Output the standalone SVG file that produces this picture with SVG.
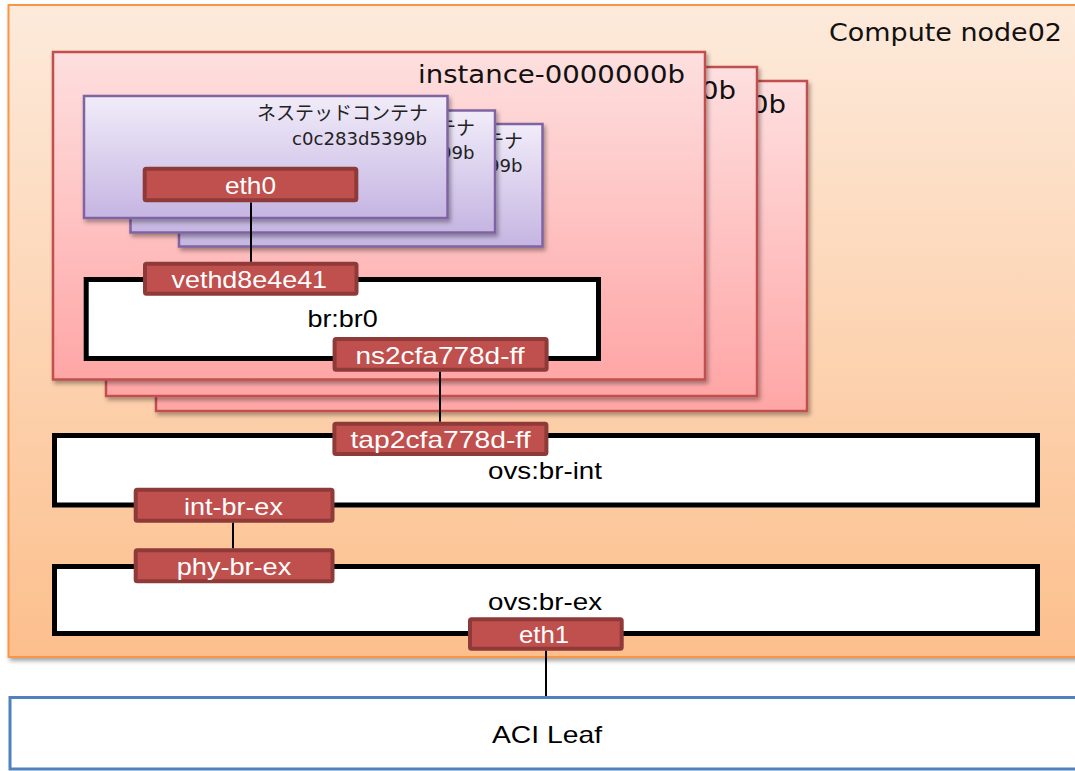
<svg xmlns="http://www.w3.org/2000/svg" width="1075" height="771" viewBox="0 0 1075 771">
  <defs>
    <linearGradient id="gNode" x1="0" y1="0" x2="0" y2="1">
      <stop offset="0" stop-color="#fdeadb"/>
      <stop offset="1" stop-color="#fcbf8c"/>
    </linearGradient>
    <linearGradient id="gInst" x1="0" y1="0" x2="0" y2="1">
      <stop offset="0" stop-color="#fedfdf"/>
      <stop offset="1" stop-color="#ffa6a6"/>
    </linearGradient>
    <linearGradient id="gCont" x1="0" y1="0" x2="0" y2="1">
      <stop offset="0" stop-color="#f1ecf9"/>
      <stop offset="1" stop-color="#c5b5e2"/>
    </linearGradient>
    <filter id="shadow" x="-5%" y="-5%" width="115%" height="120%">
      <feDropShadow dx="2" dy="3" stdDeviation="2.2" flood-color="#000" flood-opacity="0.35"/>
    </filter>
    <style>
      .node-host { fill: url(#gNode); stroke: #f79646; stroke-width: 2; }
      .inst { fill: url(#gInst); stroke: #c0504d; stroke-width: 2.5; }
      .cont { fill: url(#gCont); stroke: #8064a2; stroke-width: 2.5; }
      .bridge { fill: #ffffff; stroke: #000000; stroke-width: 5; }
      .port { fill: #c0504d; stroke: #8e3a38; stroke-width: 4; }
      .leaf { fill: #ffffff; stroke: #4f81bd; stroke-width: 3; }
      .wire { stroke: #000000; stroke-width: 2; fill: none; }
      .t-title { font-family: "DejaVu Sans", "Noto Sans", sans-serif; font-size: 25px; fill: #111111; }
      .t-jp { font-family: "Noto Sans CJK JP", sans-serif; font-size: 19px; fill: #222222; }
      .t-id { font-family: "DejaVu Sans", sans-serif; font-size: 18px; fill: #222222; }
      .t-port { font-family: "Liberation Sans", Arial, sans-serif; font-size: 24px; fill: #ffffff; text-anchor: middle; }
      .t-br { font-family: "Liberation Sans", Arial, sans-serif; font-size: 24px; fill: #000000; text-anchor: middle; }
    </style>
  </defs>

  <!-- compute host -->
  <g id="compute-node02">
    <rect class="node-host" x="8.5" y="5" width="1080" height="652" filter="url(#shadow)"/>
    <text class="t-title" x="1062" y="40.5" text-anchor="end" textLength="233" lengthAdjust="spacingAndGlyphs">Compute node02</text>
  </g>

  <!-- stacked VM instances, back to front -->
  <g id="instance-3">
    <rect class="inst" x="156" y="81" width="651" height="330" filter="url(#shadow)"/>
    <text class="t-title" x="786" y="113" text-anchor="end" textLength="267" lengthAdjust="spacingAndGlyphs">instance-0000000b</text>
  </g>
  <g id="instance-2">
    <rect class="inst" x="106" y="67" width="651" height="329" filter="url(#shadow)"/>
    <text class="t-title" x="736" y="98.5" text-anchor="end" textLength="267" lengthAdjust="spacingAndGlyphs">instance-0000000b</text>
  </g>
  <g id="instance-1">
    <rect class="inst" x="53" y="52" width="652" height="327.5" filter="url(#shadow)"/>
    <text class="t-title" x="685" y="83" text-anchor="end" textLength="267" lengthAdjust="spacingAndGlyphs">instance-0000000b</text>
  </g>

  <!-- nested containers, back to front -->
  <g id="container-3">
    <rect class="cont" x="179" y="124" width="363.5" height="122.5" filter="url(#shadow)"/>
    <text class="t-jp" x="523" y="148" text-anchor="end">ネステッドコンテナ</text>
    <text class="t-id" x="522.5" y="172" text-anchor="end" textLength="135" lengthAdjust="spacingAndGlyphs">c0c283d5399b</text>
  </g>
  <g id="container-2">
    <rect class="cont" x="130.5" y="110.5" width="364.5" height="122" filter="url(#shadow)"/>
    <text class="t-jp" x="475" y="134.5" text-anchor="end">ネステッドコンテナ</text>
    <text class="t-id" x="474.5" y="158.5" text-anchor="end" textLength="135" lengthAdjust="spacingAndGlyphs">c0c283d5399b</text>
  </g>
  <g id="container-1">
    <rect class="cont" x="84" y="96" width="363.5" height="122" filter="url(#shadow)"/>
    <text class="t-jp" x="428" y="120" text-anchor="end">ネステッドコンテナ</text>
    <text class="t-id" x="427" y="144.5" text-anchor="end" textLength="135" lengthAdjust="spacingAndGlyphs">c0c283d5399b</text>
  </g>

  <!-- bridges -->
  <g id="br-br0">
    <rect class="bridge" x="86.2" y="279.5" width="512.3" height="79"/>
    <text class="t-br" x="342.6" y="326.7" textLength="70.4" lengthAdjust="spacingAndGlyphs">br:br0</text>
  </g>
  <g id="ovs-br-int">
    <rect class="bridge" x="54.5" y="435.5" width="983" height="69.5"/>
    <text class="t-br" x="545" y="479.3" textLength="114" lengthAdjust="spacingAndGlyphs">ovs:br-int</text>
  </g>
  <g id="ovs-br-ex">
    <rect class="bridge" x="54.5" y="566.5" width="983" height="67"/>
    <text class="t-br" x="545" y="609.5" textLength="114" lengthAdjust="spacingAndGlyphs">ovs:br-ex</text>
  </g>

  <!-- external switch -->
  <g id="aci-leaf">
    <rect class="leaf" x="10" y="697.5" width="1080" height="71.5"/>
    <text class="t-br" x="547" y="743.3" font-size="28" textLength="110" lengthAdjust="spacingAndGlyphs">ACI Leaf</text>
  </g>

  <!-- interfaces -->
  <g id="port-eth0">
    <rect class="port" x="144.7" y="168.7" width="211.6" height="31.6" rx="1.5"/>
    <text class="t-port" x="250.5" y="194.3" textLength="51" lengthAdjust="spacingAndGlyphs">eth0</text>
  </g>
  <g id="port-vethd8e4e41">
    <rect class="port" x="145" y="263.7" width="211.5" height="30" rx="1.5"/>
    <text class="t-port" x="249.3" y="287.7" textLength="155.5" lengthAdjust="spacingAndGlyphs">vethd8e4e41</text>
  </g>
  <g id="port-ns2cfa778d-ff">
    <rect class="port" x="334.6" y="339" width="212" height="30.7" rx="1.5"/>
    <text class="t-port" x="440" y="364.3" textLength="169" lengthAdjust="spacingAndGlyphs">ns2cfa778d-ff</text>
  </g>
  <g id="port-tap2cfa778d-ff">
    <rect class="port" x="334.4" y="423.7" width="212" height="30.3" rx="1.5"/>
    <text class="t-port" x="440.5" y="448.3" textLength="180" lengthAdjust="spacingAndGlyphs">tap2cfa778d-ff</text>
  </g>
  <g id="port-int-br-ex">
    <rect class="port" x="135.7" y="489.7" width="196.8" height="31" rx="1.5"/>
    <text class="t-port" x="233.4" y="515" textLength="99" lengthAdjust="spacingAndGlyphs">int-br-ex</text>
  </g>
  <g id="port-phy-br-ex">
    <rect class="port" x="135.7" y="550.3" width="196.8" height="31" rx="1.5"/>
    <text class="t-port" x="234" y="574.5" textLength="114.5" lengthAdjust="spacingAndGlyphs">phy-br-ex</text>
  </g>
  <g id="port-eth1">
    <rect class="port" x="470" y="619.3" width="151.7" height="29.4" rx="1.5"/>
    <text class="t-port" x="544" y="642.7" textLength="50" lengthAdjust="spacingAndGlyphs">eth1</text>
  </g>

  <!-- links between interfaces -->
  <g id="connectors">
    <line class="wire" x1="251" y1="202.5" x2="251" y2="261.7"/>
    <line class="wire" x1="440" y1="371.7" x2="440" y2="421.7"/>
    <line class="wire" x1="233" y1="522.7" x2="233" y2="548.3"/>
    <line class="wire" x1="546" y1="650.7" x2="546" y2="696"/>
  </g>
</svg>
